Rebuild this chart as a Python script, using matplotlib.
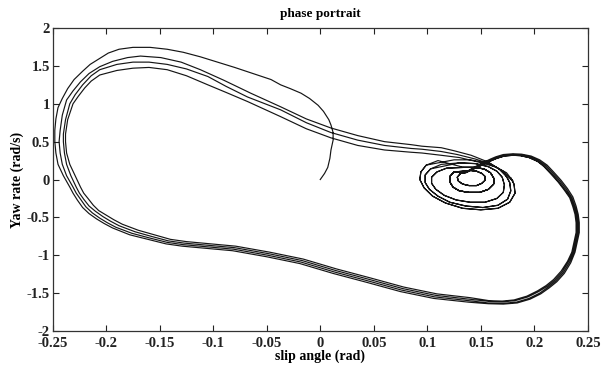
import numpy as np
import matplotlib
matplotlib.use("Agg")
import matplotlib.pyplot as plt

plt.rcParams['font.family'] = ['Liberation Serif', 'DejaVu Serif']
plt.rcParams['font.weight'] = 'bold'

# --- traced trajectory pieces (slip angle [rad], yaw rate [rad/s]) ---

# first pass: from the origin up, over the outer top arc and down the left side
start_x = [0.000, 0.004, 0.007, 0.009, 0.010, 0.012, 0.012, 0.010, 0.008, 0.003,
           -0.002, -0.010, -0.018, -0.028, -0.037, -0.046, -0.065, -0.080, -0.096, -0.112,
           -0.128, -0.143, -0.159, -0.175, -0.188, -0.198, -0.206, -0.215, -0.222, -0.230,
           -0.236, -0.241, -0.245, -0.247, -0.248, -0.248, -0.247, -0.245, -0.240]
start_y = [0.00, 0.08, 0.16, 0.28, 0.39, 0.52, 0.62, 0.72, 0.79, 0.90,
           0.98, 1.07, 1.14, 1.20, 1.25, 1.32, 1.41, 1.48, 1.55, 1.62,
           1.68, 1.72, 1.745, 1.745, 1.72, 1.67, 1.60, 1.52, 1.43, 1.32,
           1.20, 1.07, 0.95, 0.80, 0.65, 0.50, 0.35, 0.20, 0.05]

# lower branch: left bend, bottom, right side, hump and entry into the focus
bottom1_x = [-0.234, -0.231, -0.227, -0.222, -0.216, -0.209, -0.202, -0.194, -0.178, -0.161,
             -0.144, -0.129, -0.113, -0.082, -0.050, -0.019, 0.012, 0.044, 0.075, 0.106,
             0.139, 0.157, 0.171, 0.184, 0.196, 0.206, 0.214, 0.221, 0.228, 0.234,
             0.238, 0.240, 0.242, 0.242, 0.241, 0.239, 0.236, 0.231, 0.225, 0.218,
             0.212, 0.205, 0.197, 0.188, 0.180, 0.171, 0.164, 0.159, 0.150, 0.141, 0.135]
bottom1_y = [-0.10, -0.18, -0.27, -0.37, -0.45, -0.52, -0.58, -0.64, -0.73, -0.79,
             -0.85, -0.88, -0.90, -0.94, -1.02, -1.11, -1.24, -1.36, -1.48, -1.57,
             -1.62, -1.64, -1.645, -1.63, -1.58, -1.51, -1.43, -1.35, -1.24, -1.10,
             -0.96, -0.83, -0.70, -0.57, -0.46, -0.35, -0.23, -0.12, -0.01, 0.10,
             0.19, 0.26, 0.31, 0.335, 0.34, 0.33, 0.30, 0.27, 0.21, 0.14, 0.09]
bottom2_x = [-0.231, -0.228, -0.224, -0.219, -0.213, -0.206, -0.199, -0.191, -0.176, -0.160,
             -0.143, -0.128, -0.112, -0.081, -0.049, -0.018, 0.013, 0.045, 0.076, 0.107,
             0.139, 0.157, 0.170, 0.183, 0.195, 0.205, 0.213, 0.220, 0.227, 0.233,
             0.237, 0.239, 0.241, 0.241, 0.240, 0.238, 0.235, 0.230, 0.224, 0.217,
             0.211, 0.204, 0.196, 0.188, 0.180, 0.172, 0.165, 0.160, 0.151, 0.141, 0.135]
bottom2_y = [-0.10, -0.18, -0.26, -0.36, -0.44, -0.51, -0.57, -0.63, -0.71, -0.77,
             -0.83, -0.86, -0.88, -0.92, -1.00, -1.09, -1.22, -1.34, -1.46, -1.55,
             -1.60, -1.63, -1.635, -1.62, -1.57, -1.50, -1.42, -1.34, -1.23, -1.09,
             -0.96, -0.83, -0.70, -0.57, -0.46, -0.36, -0.24, -0.13, -0.02, 0.09,
             0.18, 0.25, 0.30, 0.325, 0.33, 0.32, 0.29, 0.26, 0.20, 0.13, 0.09]
bottom3_x = [-0.228, -0.225, -0.221, -0.216, -0.210, -0.203, -0.196, -0.188, -0.173, -0.158,
             -0.142, -0.127, -0.111, -0.080, -0.048, -0.017, 0.014, 0.046, 0.077, 0.108,
             0.139, 0.158, 0.170, 0.182, 0.194, 0.204, 0.212, 0.219, 0.226, 0.232,
             0.236, 0.238, 0.240, 0.240, 0.239, 0.237, 0.234, 0.229, 0.223, 0.216,
             0.210, 0.203, 0.195, 0.187, 0.180, 0.172, 0.165, 0.160, 0.151, 0.142, 0.136]
bottom3_y = [-0.10, -0.18, -0.26, -0.35, -0.42, -0.49, -0.55, -0.61, -0.69, -0.75,
             -0.81, -0.84, -0.86, -0.90, -0.98, -1.07, -1.20, -1.32, -1.44, -1.53,
             -1.58, -1.61, -1.615, -1.60, -1.55, -1.48, -1.41, -1.33, -1.22, -1.08,
             -0.96, -0.83, -0.70, -0.57, -0.46, -0.36, -0.24, -0.14, -0.03, 0.08,
             0.17, 0.24, 0.29, 0.315, 0.32, 0.31, 0.28, 0.25, 0.19, 0.13, 0.09]
bottom4_x = [-0.224, -0.221, -0.217, -0.212, -0.207, -0.200, -0.193, -0.185, -0.170, -0.155,
             -0.140, -0.125, -0.110, -0.079, -0.047, -0.016, 0.015, 0.047, 0.078, 0.109,
             0.140, 0.158, 0.170, 0.181, 0.193, 0.203, 0.211, 0.218, 0.225, 0.231,
             0.235, 0.237, 0.239, 0.239, 0.238, 0.236, 0.233, 0.228, 0.222, 0.215,
             0.209, 0.203, 0.195, 0.187, 0.180, 0.172, 0.165, 0.160, 0.151, 0.142, 0.136]
bottom4_y = [-0.10, -0.18, -0.25, -0.34, -0.41, -0.47, -0.53, -0.59, -0.67, -0.73,
             -0.79, -0.82, -0.84, -0.88, -0.96, -1.05, -1.18, -1.30, -1.42, -1.51,
             -1.56, -1.60, -1.605, -1.59, -1.54, -1.47, -1.40, -1.32, -1.21, -1.08,
             -0.96, -0.83, -0.70, -0.57, -0.46, -0.36, -0.24, -0.14, -0.03, 0.08,
             0.17, 0.24, 0.29, 0.315, 0.32, 0.31, 0.28, 0.25, 0.19, 0.13, 0.09]

# rings around the focus near (0.14, 0.0)
ring1_x = [0.131, 0.128, 0.129, 0.133, 0.139, 0.146, 0.151, 0.154, 0.154, 0.151,
           0.146, 0.140, 0.134]
ring1_y = [0.08, 0.03, -0.02, -0.06, -0.08, -0.08, -0.05, -0.01, 0.04, 0.08,
           0.11, 0.12, 0.11]
ring2_x = [0.125, 0.121, 0.121, 0.124, 0.130, 0.139, 0.149, 0.157, 0.162, 0.162,
           0.159, 0.153, 0.144, 0.134]
ring2_y = [0.10, 0.04, -0.03, -0.10, -0.15, -0.17, -0.17, -0.13, -0.06, 0.02,
           0.09, 0.14, 0.16, 0.16]
ring3_x = [0.118, 0.109, 0.104, 0.104, 0.108, 0.116, 0.127, 0.140, 0.154, 0.165,
           0.171, 0.172, 0.170, 0.165, 0.157, 0.145, 0.130]
ring3_y = [0.15, 0.10, 0.03, -0.05, -0.13, -0.21, -0.27, -0.30, -0.30, -0.25,
           -0.17, -0.07, 0.03, 0.11, 0.17, 0.21, 0.22]
ring4_x = [0.113, 0.103, 0.098, 0.098, 0.102, 0.110, 0.121, 0.136, 0.152, 0.166,
           0.175, 0.178, 0.177, 0.173, 0.166, 0.155, 0.140, 0.125]
ring4_y = [0.20, 0.14, 0.06, -0.04, -0.13, -0.22, -0.30, -0.35, -0.37, -0.34,
           -0.26, -0.15, -0.04, 0.06, 0.15, 0.22, 0.26, 0.26]
ring5_x = [0.110, 0.099, 0.094, 0.093, 0.097, 0.105, 0.117, 0.133, 0.150, 0.166,
           0.177, 0.182, 0.181, 0.178]
ring5_y = [0.25, 0.19, 0.10, 0.00, -0.11, -0.22, -0.31, -0.38, -0.40, -0.38,
           -0.30, -0.18, -0.06, 0.02]

# bands leaving the focus, over the top arc and down the left side
band2_x = [0.175, 0.168, 0.157, 0.141, 0.125, 0.113, 0.095, 0.085, 0.060, 0.035,
           0.010, -0.013, -0.037, -0.065, -0.090, -0.112, -0.130, -0.149, -0.168, -0.180,
           -0.194, -0.206, -0.216, -0.224, -0.231, -0.237, -0.241, -0.243, -0.244, -0.243,
           -0.241, -0.237]
band2_y = [0.02, 0.13, 0.23, 0.32, 0.38, 0.42, 0.44, 0.46, 0.50, 0.58,
           0.68, 0.80, 0.96, 1.14, 1.31, 1.45, 1.55, 1.61, 1.63, 1.61,
           1.56, 1.49, 1.40, 1.29, 1.17, 1.05, 0.85, 0.65, 0.50, 0.35,
           0.20, 0.05]
band3_x = [0.178, 0.171, 0.160, 0.145, 0.128, 0.113, 0.095, 0.085, 0.060, 0.035,
           0.010, -0.013, -0.037, -0.068, -0.088, -0.105, -0.125, -0.143, -0.160, -0.175,
           -0.190, -0.206, -0.214, -0.222, -0.229, -0.234, -0.238, -0.240, -0.240, -0.239,
           -0.237, -0.233]
band3_y = [0.00, 0.11, 0.20, 0.27, 0.33, 0.37, 0.40, 0.41, 0.45, 0.52,
           0.62, 0.75, 0.92, 1.09, 1.23, 1.36, 1.46, 1.52, 1.55, 1.55,
           1.52, 1.45, 1.37, 1.25, 1.12, 1.00, 0.79, 0.60, 0.50, 0.35,
           0.20, 0.05]
band4_x = [0.180, 0.174, 0.163, 0.148, 0.130, 0.113, 0.095, 0.085, 0.060, 0.035,
           0.010, -0.013, -0.037, -0.068, -0.088, -0.105, -0.125, -0.143, -0.160, -0.175,
           -0.190, -0.206, -0.214, -0.220, -0.226, -0.231, -0.236, -0.238, -0.238, -0.237,
           -0.234, -0.229]
band4_y = [-0.02, 0.09, 0.17, 0.23, 0.29, 0.32, 0.35, 0.36, 0.39, 0.45,
           0.55, 0.67, 0.83, 1.03, 1.15, 1.25, 1.37, 1.45, 1.48, 1.47,
           1.44, 1.38, 1.30, 1.21, 1.10, 1.00, 0.79, 0.60, 0.50, 0.35,
           0.20, 0.05]

# order in which the pieces are visited
pieces_x = [start_x, bottom1_x, ring1_x, ring2_x, ring3_x, ring4_x[1:13], band2_x,
            bottom2_x, ring1_x, ring2_x, ring5_x, band3_x,
            bottom3_x, ring2_x, ring3_x, ring4_x, ring5_x[1:], band4_x,
            bottom4_x, ring1_x, ring2_x]
pieces_y = [start_y, bottom1_y, ring1_y, ring2_y, ring3_y, ring4_y[1:13], band2_y,
            bottom2_y, ring1_y, ring2_y, ring5_y, band3_y,
            bottom3_y, ring2_y, ring3_y, ring4_y, ring5_y[1:], band4_y,
            bottom4_y, ring1_y, ring2_y]
traj_x = np.concatenate(pieces_x)
traj_y = np.concatenate(pieces_y)

fig = plt.figure(figsize=(6.02, 3.69), dpi=100)
ax = fig.add_axes([0.0875, 0.103, 0.889, 0.821])
ax.plot(traj_x, traj_y, color='#151515', linewidth=0.85, solid_joinstyle='round')

ax.set_xlim(-0.25, 0.25)
ax.set_ylim(-2, 2)
ax.set_xticks(np.arange(-0.25, 0.26, 0.05))
ax.set_xticklabels(['-0.25', '-0.2', '-0.15', '-0.1', '-0.05', '0',
                    '0.05', '0.1', '0.15', '0.2', '0.25'])
ax.set_yticks(np.arange(-2, 2.01, 0.5))
ax.set_yticklabels(['-2', '-1.5', '-1', '-0.5', '0', '0.5', '1', '1.5', '2'])
ax.tick_params(direction='in', top=True, right=True, length=4, width=0.8,
               labelsize=10.5, colors='#222222')
ax.tick_params(axis='x', pad=4)
ax.tick_params(axis='y', pad=2)
for s in ax.spines.values():
    s.set_linewidth(0.9)
    s.set_color('#333333')

ax.set_title('phase portrait', fontsize=9.5, fontweight='bold', pad=8)
ax.set_xlabel('slip angle (rad)', fontsize=10, fontweight='bold', labelpad=0)
ax.set_ylabel('Yaw rate (rad/s)', fontsize=10, fontweight='bold', labelpad=2)

fig.savefig('out.png', dpi=100)
